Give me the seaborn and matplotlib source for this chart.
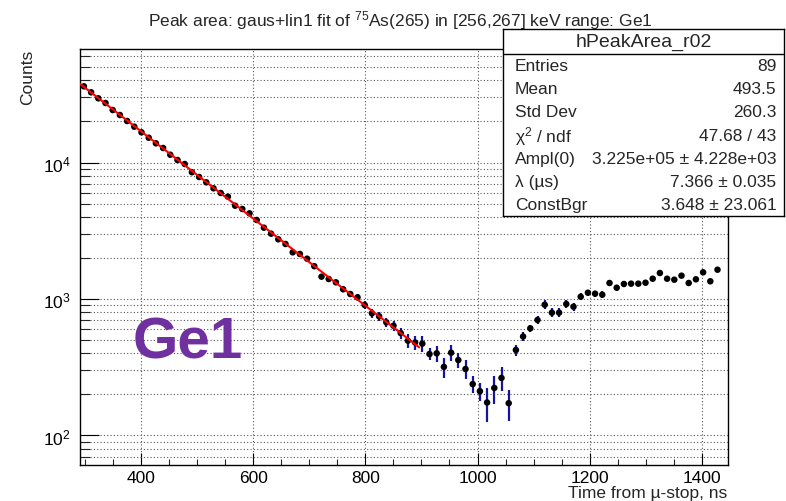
import numpy as np
import pandas as pd
import matplotlib
matplotlib.use("Agg")
import matplotlib.pyplot as plt
import seaborn as sns
from matplotlib.ticker import LogLocator, MultipleLocator, NullFormatter

# ---------------- data ----------------
bin_low, bin_high, n_bins = 292.0, 1447.0, 90   # histogram binning, ns

counts = [36150, 32680, 29530, 27290, 24240, 22280, 20140, 18300, 16640, 15190,
          13820, 12770, 11400, 10430, 9750, 8490, 7830, 7160, 6470, 5980,
          5620, 4826, 4564, 4244, 3792, 3330, 3009, 2738, 2529, 2198,
          2137, 1973, 1739, 1457, 1401, 1325, 1178, 1088, 1029, 904,
          786, 747, 675, 637, 563, 495, 480, 471, 395, 400,
          318, 404, 357, 307, 238, 211, 174.5, 223, 264, 172.4,
          423, 531, 610, 702, 908, 794, 794, 919, 878, 1039,
          1112, 1094, 1075, 1310, 1210, 1288, 1295, 1295, 1316, 1408,
          1550, 1408, 1385, 1482, 1310, 1394, 1569, 1348, 1639]

errors = [260, 245, 235, 225, 215, 205, 195, 185, 178, 170,
          162, 155, 148, 142, 138, 130, 125, 120, 115, 110,
          106, 100, 97, 94, 90, 86, 82, 79, 76, 73,
          71, 69, 67, 64, 62, 61, 59, 57, 56, 60,
          55, 54, 53, 52, 52, 55, 55, 63, 39, 56,
          54, 55, 47, 49, 33, 33, 49, 52, 53, 44,
          41, 40, 38, 50, 70, 62, 62, 65, 60, 62,
          60, 60, 60, 62, 60, 60, 60, 60, 60, 62,
          62, 60, 60, 62, 60, 60, 62, 60, 62]

# fit parameters (from the stats box)
ampl0 = 3.225e5
lam_per_us = 7.366
const_bgr = 3.648
fit_range = (292.0, 896.0)

stat_names = ["Entries", "Mean", "Std Dev", "χ$^{2}$ / ndf", "Ampl(0)", "λ (µs)", "ConstBgr"]
stat_values = ["89", "493.5", "260.3", "47.68 / 43", "3.225e+05 ± 4.228e+03",
               "7.366 ± 0.035", "3.648 ± 23.061"]

title = r"Peak area: gaus+lin1 fit of $^{75}$As(265) in [256,267] keV range: Ge1"

# ---------------- build tables ----------------
width = (bin_high - bin_low) / n_bins
centers = bin_low + width * (np.arange(n_bins) + 0.5)
df = pd.DataFrame({"t": centers[:len(counts)], "counts": counts, "err": errors})

t_fit = np.linspace(fit_range[0], fit_range[1], 300)
fit_df = pd.DataFrame({"t": t_fit,
                       "y": ampl0 * np.exp(-lam_per_us * t_fit / 1000.0) + const_bgr})

# ---------------- styling ----------------
sns.set_theme(style="white")
plt.rcParams["font.family"] = ["Liberation Sans", "DejaVu Sans"]
plt.rcParams["mathtext.fontset"] = "custom"
plt.rcParams["mathtext.rm"] = "Liberation Sans"
plt.rcParams["mathtext.it"] = "Liberation Sans"

W, H = 786, 502
fig = plt.figure(figsize=(W / 100, H / 100), dpi=100)
fig.patch.set_facecolor("white")

L, R, T, B = 80.3, 728.3, 49.5, 465.5
ax = fig.add_axes([L / W, 1 - B / H, (R - L) / W, (B - T) / H])
ax.set_facecolor("white")

ax.errorbar(df["t"], df["counts"], yerr=df["err"], fmt="none",
            ecolor="#1414a0", elinewidth=1.6, capsize=0, zorder=3)
sns.scatterplot(data=df, x="t", y="counts", ax=ax, color="black", s=22,
                edgecolor="none", zorder=5, legend=False)
sns.lineplot(data=fit_df, x="t", y="y", ax=ax, color="#ff0000", linewidth=1.5,
             zorder=6, legend=False)

ax.set_yscale("log")
ax.set_xlim(bin_low, bin_high)
ax.set_ylim(61.3, 68430)
ax.set_xlabel("")
ax.set_ylabel("")

ax.xaxis.set_major_locator(MultipleLocator(200))
ax.xaxis.set_minor_locator(MultipleLocator(50))
ax.yaxis.set_major_locator(LogLocator(base=10, numticks=10))
ax.yaxis.set_minor_locator(LogLocator(base=10, subs=np.arange(2, 10), numticks=20))
ax.yaxis.set_minor_formatter(NullFormatter())

ax.grid(True, which="major", axis="x", color="#555555", linestyle=(0, (1, 2)), linewidth=0.8)
ax.grid(True, which="both", axis="y", color="#555555", linestyle=(0, (1, 2)), linewidth=0.8)

ax.tick_params(axis="x", which="major", direction="in", length=9, width=0.8,
               labelsize=12.5, pad=4, colors="black", top=False)
ax.tick_params(axis="x", which="minor", direction="in", length=4.5, width=0.8, top=False)
ax.tick_params(axis="y", which="major", direction="in", length=14, width=0.8,
               labelsize=12.5, pad=7, colors="black", right=False)
ax.tick_params(axis="y", which="minor", direction="in", length=7, width=0.8, right=False)
ax.tick_params(axis="both", which="both", bottom=True, left=True)

for s in ax.spines.values():
    s.set_color("black")
    s.set_linewidth(1.0)

fig.text(133 / W, 1 - 344 / H, "Ge1", fontsize=42, fontweight="bold",
         color="#7030a0", ha="left", va="center")

fig.text(727 / W, 1 - 494 / H, "Time from µ-stop, ns", fontsize=12.5,
         ha="right", va="center")
fig.text(28 / W, 1 - 50 / H, "Counts", fontsize=12.5, rotation=90,
         ha="center", va="top")

fig.text(400 / W, 1 - 21 / H, title, fontsize=12.5, ha="center", va="center")

# stats box
bx0, bx1, by0, by1 = 502.7, 784.0, 30.0, 217.3
sax = fig.add_axes([bx0 / W, 1 - by1 / H, (bx1 - bx0) / W, (by1 - by0) / H], zorder=10)
sax.set_xlim(bx0, bx1)
sax.set_ylim(by1, by0)
sax.set_facecolor("white")
sax.set_xticks([])
sax.set_yticks([])
for s in sax.spines.values():
    s.set_color("black")
    s.set_linewidth(1.0)
sep = 55.0
sax.plot([bx0, bx1], [sep, sep], color="black", linewidth=1.0)
sax.text((bx0 + bx1) / 2, (by0 + sep) / 2, "hPeakArea_r02", fontsize=14,
         ha="center", va="center")
row_h = (by1 - sep) / len(stat_names)
for i, (n, v) in enumerate(zip(stat_names, stat_values)):
    yc = sep + row_h * (i + 0.5)
    sax.text(515, yc, n, fontsize=12.5, ha="left", va="center")
    sax.text(776.5, yc, v, fontsize=12.5, ha="right", va="center")

fig.savefig("out.png", dpi=100, facecolor="white")
